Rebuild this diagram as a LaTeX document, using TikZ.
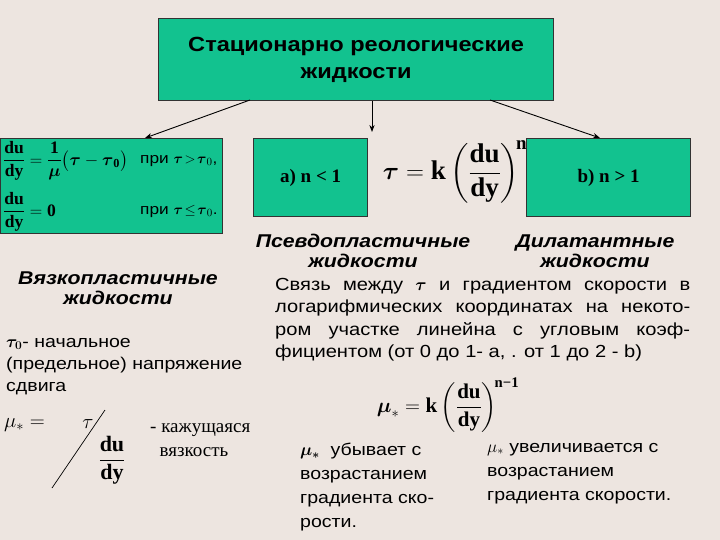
\documentclass[tikz,border=0pt]{standalone}
\usepackage{amsmath}
\usepackage{fontspec}
\setmainfont[FakeStretch=1.15]{Liberation Sans}
\newfontfamily\ser{Liberation Serif}
\usetikzlibrary{arrows.meta}
\definecolor{bg}{HTML}{EDE5E0}
\definecolor{teal}{HTML}{12C28F}
\tikzset{box/.style={draw=black!80,line width=1.2pt,fill=teal},
 arr/.style={-{Stealth[length=7pt]},line width=0.9pt},
 txt/.style={inner sep=0pt,align=left,anchor=north west},
 head/.style={font=\fontsize{18.5}{20}\selectfont\bfseries\itshape,align=center}}
\newcommand{\frc}[2]{\genfrac{}{}{0.8pt}{0}{\text{\ser\bfseries #1}}{\text{\ser\bfseries #2}}}
\newcommand{\mfrc}[2]{\genfrac{}{}{0.8pt}{0}{#1}{#2}}
\newcommand{\sr}[1]{\text{\ser\bfseries #1}}
\begin{document}
\begin{tikzpicture}[x=1pt,y=-1pt]
\fill[bg] (0,0) rectangle (720,540);
\useasboundingbox (0,0) rectangle (720,540);
\node[box,minimum width=395pt,minimum height=82pt,anchor=north west,font=\fontsize{20.5}{27}\selectfont\bfseries,align=center] (top) at (158,18) {Стационарно реологические\\жидкости};
\node[box,minimum width=222pt,minimum height=95pt,anchor=north west] (left) at (0,138) {};
\node[box,minimum width=114pt,minimum height=78pt,anchor=north west,font=\ser\fontsize{19}{22}\selectfont\bfseries] (a) at (253,138) {a) n < 1};
\node[box,minimum width=164pt,minimum height=78pt,anchor=north west,font=\ser\fontsize{19}{22}\selectfont\bfseries] (b) at (526,138) {b) n > 1};
\coordinate (m) at (372,132);
\draw[arr] (250,100) -- (left.north -| 145,0);
\draw[arr] (top.south -| m) -- (m);
\draw[arr] (490,100) -- (b.north -| 600,0);
% main formula
\node[font=\fontsize{27}{30}\selectfont,inner sep=0pt] (f) at (455,172) {$\boldsymbol{\tau} = \sr{k}\left(\frc{du}{dy}\right)^{\!\sr{n}}$};
% left box formulas
\node[txt,font=\fontsize{17.5}{20}\selectfont] (e1) at (3,141) {$\frc{du}{dy}=\mfrc{\sr{1}}{\boldsymbol{\mu}}\bigl(\boldsymbol{\tau}-\boldsymbol{\tau}_{\sr{0}}\bigr)$};
\node[txt,font=\fontsize{15}{18}\selectfont] (p1) at (140,155) {при $\boldsymbol{\tau}\!>\!\boldsymbol{\tau}_0$,};
\node[txt,font=\fontsize{17.5}{20}\selectfont] (e2) at (3,192) {$\frc{du}{dy}=\sr{0}$};
\node[txt,font=\fontsize{15}{18}\selectfont] (p2) at (140,205) {при $\boldsymbol{\tau}\!\le\!\boldsymbol{\tau}_0$.};
\node[head] (ps) at (363,251) {Псевдопластичные\\жидкости};
\node[head] (dl) at (595,251) {Дилатантные\\жидкости};
\node[head] (vp) at (118,288) {Вязкопластичные\\жидкости};
\node[txt,font=\fontsize{17.5}{22.5}\selectfont,text width=415pt,align=justify] (sv) at (275,278) {Связь между $\boldsymbol{\tau}$ и градиентом скорости в\linebreak логарифмических координатах на некото-\linebreak ром участке линейна с угловым коэф-\linebreak фициентом (от 0 до 1- а, . от 1 до 2 - b)};
\node[txt,font=\fontsize{17}{22}\selectfont] (t0) at (6,338) {$\boldsymbol{\tau_0}$- начальное\\(предельное) напряжение\\сдвига};
\node[font=\fontsize{21}{24}\selectfont,inner sep=0pt] (mk) at (448,405) {$\boldsymbol{\mu}_* = \sr{k}\left(\frc{du}{dy}\right)^{\!\sr{n−1}}$};
\node[txt,font=\fontsize{22}{24}\selectfont] (ms) at (4,418) {$\mu_* =$};
\node[font=\fontsize{22}{24}\selectfont,inner sep=0pt] (tau) at (88,424) {$\tau$};
\node[font=\fontsize{22}{22}\selectfont,inner sep=0pt] (dd) at (112,460) {$\frc{du}{dy}$};
\coordinate (s1) at (105,410);
\coordinate (s2) at (52,488);
\draw[line width=0.7pt] (s1) -- (s2);
\node[txt,font=\ser\fontsize{19}{24}\selectfont] (kv) at (150,423) {- кажущаяся\\\ \ вязкость};
\node[txt,font=\fontsize{17}{24}\selectfont] (u1) at (300,443) {$\boldsymbol{\mu_*}$\ \ убывает с\\возрастанием\\градиента ско-\\рости.};
\node[txt,font=\fontsize{17}{24}\selectfont] (u2) at (487,443) {$\mu_*$ увеличивается с\\возрастанием\\градиента скорости.};
\end{tikzpicture}
\end{document}
